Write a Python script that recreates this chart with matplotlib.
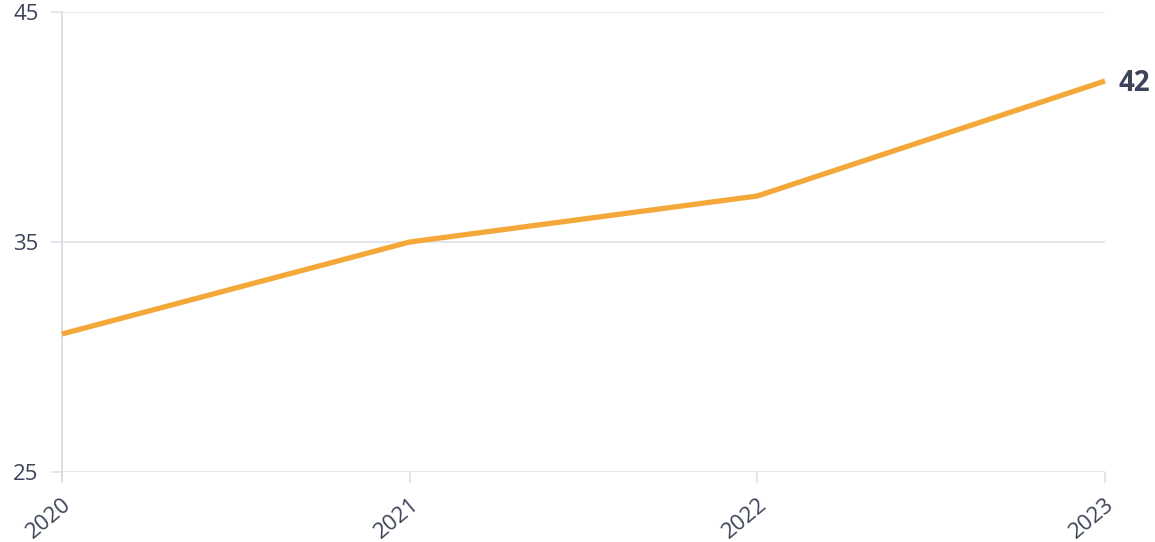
import matplotlib
matplotlib.use("Agg")
import matplotlib.pyplot as plt

years = ["2020", "2021", "2022", "2023"]
values = [31, 35, 37, 42]
yticks = [25, 35, 45]

plt.rcParams['font.family'] = ['Open Sans', 'DejaVu Sans']
text_color = "#3d4459"
grid_color = "#e1e4ec"
line_color = "#f5a83a"

fig = plt.figure(figsize=(11.55, 5.42), dpi=100)
ax = fig.add_axes([62/1155, 1 - 472/542, (1105-62)/1155, (472-12)/542])
x = list(range(len(years)))
ax.plot(x, values, color=line_color, lw=3.8, solid_capstyle='butt', zorder=3, clip_on=False)
ax.set_xlim(0, len(years) - 1)
ax.set_ylim(25, 45)
ax.set_yticks(yticks)
ax.set_xticks(x)
ax.set_xticklabels(years, rotation=40, ha='right', va='top', rotation_mode='anchor')
ax.grid(axis='y', color=grid_color, lw=1.3)
for s in ['top', 'right', 'bottom']:
    ax.spines[s].set_visible(False)
ax.spines['left'].set_color("#d9dbe0")
ax.spines['left'].set_linewidth(1.3)
ax.spines['left'].set_bounds(24.65, 45)
ax.tick_params(axis='y', length=8, color=grid_color, width=1.3, labelsize=16, labelcolor=text_color, pad=9)
ax.tick_params(axis='x', length=8, color=grid_color, width=1.3, labelsize=16, labelcolor=text_color, pad=8)
ax.annotate(str(values[-1]), xy=(x[-1], values[-1]), xytext=(10, -1.5), textcoords='offset points',
            ha='left', va='center', fontsize=20, fontweight='bold', color=text_color, annotation_clip=False)
fig.savefig("out.png", dpi=100)
